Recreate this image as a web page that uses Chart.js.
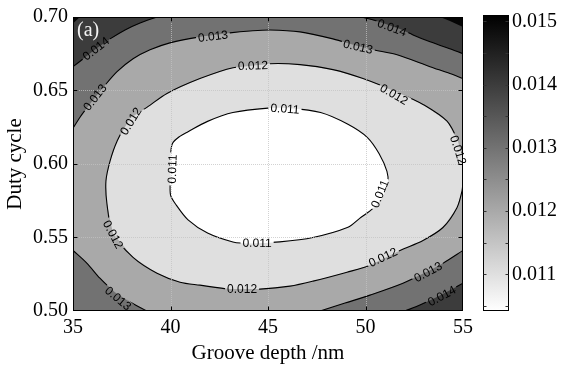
<!DOCTYPE html>
<html>
<head>
<meta charset="utf-8">
<script src="https://cdn.jsdelivr.net/npm/chart.js@4/dist/chart.umd.min.js"></script>
<style>
  html, body { margin: 0; padding: 0; background: #fff; }
  #wrap { position: relative; width: 562px; height: 369px; }
  #main { position: absolute; left: 0; top: 0; }
  #cbar { position: absolute; left: 470px; top: 0; }
</style>
</head>
<body>
<div id="wrap">
  <canvas id="main" width="562" height="369"></canvas>
  <canvas id="cbar" width="92" height="369"></canvas>
</div>
<script>
// axes
const xTicks = [35, 40, 45, 50, 55];
const yTicks = [0.50, 0.55, 0.60, 0.65, 0.70];
const cbTicks = [0.011, 0.012, 0.013, 0.014, 0.015];
const cbMinor = [0.0105, 0.011, 0.0115, 0.012, 0.0125, 0.013, 0.0135, 0.014, 0.0145, 0.015];
const cMin = 0.01042, cMax = 0.0151;

// contour lines, [groove depth nm, duty cycle]
const c014TL = [[35, 0.6662], [35.46, 0.6709], [36.18, 0.6784], [36.90, 0.6851], [37.67, 0.6912], [38.44, 0.6959], [39.31, 0.70]];
const c014TR = [[49.82, 0.70], [50.74, 0.6966], [51.77, 0.6919], [52.44, 0.6878], [53.31, 0.6831], [54.18, 0.6791], [55, 0.675]];
const c014BR = [[52.03, 0.50], [52.79, 0.5041], [53.56, 0.5088], [54.33, 0.5142], [55, 0.5189]];
const c013T = [[35, 0.6243], [35.36, 0.6318], [35.77, 0.6392], [36.13, 0.6453], [36.54, 0.6520], [37.26, 0.6628],
  [38.08, 0.6716], [38.95, 0.6777], [39.97, 0.6824], [41.51, 0.6865], [43.05, 0.6892], [44.08, 0.6905],
  [45.10, 0.6912], [46.64, 0.6899], [48.33, 0.6851], [49.56, 0.6804], [50.38, 0.6777], [51.62, 0.6743],
  [53.31, 0.6662], [54.33, 0.6615], [55, 0.6581]];
const c013BL = [[35, 0.5412], [35.72, 0.5324], [36.38, 0.5223], [37.15, 0.5128], [37.92, 0.5061], [38.79, 0.50]];
const c013BR = [[47.67, 0.50], [48.95, 0.5054], [50.23, 0.5108], [51.92, 0.5189], [53.31, 0.5277], [53.97, 0.5324], [55, 0.5412]];
const c012 = [[55, 0.6034], [54.74, 0.6155], [54.18, 0.6291], [52.95, 0.6405], [51.77, 0.6480], [49.87, 0.6581],
  [48.33, 0.6642], [46.64, 0.6676], [45.10, 0.6682], [43.21, 0.6655], [41.51, 0.6581], [39.82, 0.6480],
  [38.79, 0.6385], [37.92, 0.6311], [37.26, 0.6155], [36.90, 0.6020], [36.69, 0.5885], [36.74, 0.5730],
  [37.05, 0.5527], [38.08, 0.5365], [39.31, 0.5257], [40.49, 0.5196], [41.51, 0.5176], [43.05, 0.5149],
  [44.59, 0.5149], [46.13, 0.5169], [47.31, 0.5203], [49.05, 0.5264], [50.23, 0.5311], [51.77, 0.5412],
  [52.95, 0.5480], [53.97, 0.5568], [54.69, 0.5703], [54.95, 0.5818], [55, 0.5885]];
const c011 = [[40.0, 0.592], [40.0, 0.605], [40.1, 0.614], [40.5, 0.619], [40.9, 0.622], [41.9, 0.629],
  [43.2, 0.635], [45.0, 0.638], [46.1, 0.638], [47.7, 0.635], [49.1, 0.627], [50.1, 0.618], [50.7, 0.607],
  [51.1, 0.595], [51.15, 0.587], [50.9, 0.578], [50.4, 0.570], [49.7, 0.563], [49.1, 0.557], [47.3, 0.550],
  [45.6, 0.547], [44.1, 0.546], [43.2, 0.547], [41.9, 0.553], [40.9, 0.562], [40.3, 0.572], [40.0, 0.579],
  [40.0, 0.592]];
// corners above 0.015 (no drawn line)
const hiTR = [[53.82, 0.70], [55, 0.70], [55, 0.6932], [54.33, 0.6973]];
const hiTL = [[35, 0.70], [35.35, 0.70], [35, 0.6955]];

// inline labels: [level, x, y, angle deg]
const contourLabels = [
  [0.014, 36.18, 0.6784, -38], [0.013, 36.13, 0.6453, -52], [0.012, 37.97, 0.6291, -58],
  [0.011, 40.10, 0.5966, -88], [0.013, 42.18, 0.6868, -7], [0.012, 44.23, 0.6669, -2],
  [0.011, 45.87, 0.6375, 4], [0.014, 51.36, 0.6926, 20], [0.013, 49.62, 0.6797, 13],
  [0.012, 51.46, 0.6473, 30], [0.012, 54.75, 0.6095, 72], [0.011, 50.74, 0.5797, -68],
  [0.011, 44.44, 0.5462, 1], [0.012, 43.67, 0.5150, 0], [0.012, 50.90, 0.5365, -25],
  [0.013, 53.21, 0.5265, -28], [0.014, 53.92, 0.5101, -28], [0.013, 37.31, 0.5085, 40],
  [0.012, 37.05, 0.5520, 62]
];

const serif = "'Liberation Serif', 'Times New Roman', serif";
const labelFont = "12px 'Liberation Sans', Arial, sans-serif";

function grayOf(v) {
  const t = Math.min(1, Math.max(0, (v - cMin) / (cMax - cMin)));
  const g = Math.round(255 * (1 - t));
  return 'rgb(' + g + ',' + g + ',' + g + ')';
}
const pts = a => a.map(([x, y]) => ({ x, y }));
const rev = a => a.slice().reverse();

// filled regions z < level, layered
const plotBox = [[35, 0.5], [55, 0.5], [55, 0.7], [35, 0.7]];
const poly014 = [...c014TL, ...c014TR, ...rev(c014BR), [35, 0.5]];
const poly013 = [...c013T, ...rev(c013BR), ...rev(c013BL)];

const fills = [
  [plotBox, 0.014, 0], [poly014, 0.013, 0], [poly013, 0.012, 0], [c012, 0.011, 0], [c011, cMin, 0.3],
  [hiTR, 0.015, 0], [hiTL, 0.015, 0]
];
const datasets = [];
fills.forEach(([poly, lv, tn], i) => {
  datasets.push({
    data: pts(poly), fill: 'shape', backgroundColor: grayOf(lv),
    borderWidth: 0, pointRadius: 0, tension: tn, order: 20 - i
  });
});
[c014TL, c014TR, c014BR, c013T, c013BL, c013BR, c012, c011].forEach(line => {
  datasets.push({
    data: pts(line), fill: false, borderColor: '#000', borderWidth: 1.1,
    pointRadius: 0, tension: 0.3, order: 1, isContour: true
  });
});

const contourPlugin = {
  id: 'contourDeco',
  beforeDatasetDraw(chart, args) {
    if (!chart.data.datasets[args.index].isContour) return;
    const ctx = chart.ctx, xs = chart.scales.x, ys = chart.scales.y;
    ctx.save();
    ctx.beginPath();
    ctx.rect(0, 0, chart.width, chart.height);
    ctx.font = labelFont;
    contourLabels.forEach(([lv, x, y, ang]) => {
      const cx = xs.getPixelForValue(x), cy = ys.getPixelForValue(y);
      const hw = ctx.measureText(lv.toFixed(3)).width / 2 + 2, hh = 5.5;
      const a = ang * Math.PI / 180, c = Math.cos(a), s = Math.sin(a);
      [[-hw, -hh], [hw, -hh], [hw, hh], [-hw, hh]].forEach(([u, v], k) => {
        const px = cx + u * c - v * s, py = cy + u * s + v * c;
        if (k) ctx.lineTo(px, py); else ctx.moveTo(px, py);
      });
      ctx.closePath();
    });
    ctx.clip('evenodd');
  },
  afterDatasetDraw(chart, args) {
    if (chart.data.datasets[args.index].isContour) chart.ctx.restore();
  },
  afterDatasetsDraw(chart) {
    const { ctx, chartArea: a } = chart;
    const xs = chart.scales.x, ys = chart.scales.y;
    ctx.save();
    // dotted grid
    ctx.strokeStyle = 'rgba(195,195,195,0.75)';
    ctx.lineWidth = 1;
    ctx.setLineDash([1, 1]);
    ctx.beginPath();
    xTicks.slice(1, -1).forEach(v => {
      const px = Math.round(xs.getPixelForValue(v)) + 0.5;
      ctx.moveTo(px, a.top); ctx.lineTo(px, a.bottom);
    });
    yTicks.slice(1, -1).forEach(v => {
      const py = Math.round(ys.getPixelForValue(v)) + 0.5;
      ctx.moveTo(a.left, py); ctx.lineTo(a.right, py);
    });
    ctx.stroke();
    ctx.setLineDash([]);
    // inline labels
    ctx.fillStyle = '#000';
    ctx.font = labelFont;
    ctx.textAlign = 'center';
    ctx.textBaseline = 'middle';
    contourLabels.forEach(([lv, x, y, ang]) => {
      ctx.save();
      ctx.translate(xs.getPixelForValue(x), ys.getPixelForValue(y));
      ctx.rotate(ang * Math.PI / 180);
      ctx.fillText(lv.toFixed(3), 0, 0.5);
      ctx.restore();
    });
    // panel tag
    ctx.fillStyle = '#f2f2f2';
    ctx.font = '20px ' + serif;
    ctx.textAlign = 'left';
    ctx.textBaseline = 'top';
    ctx.fillText('(a)', a.left + 4, a.top + 4);
    // frame and inward ticks
    ctx.strokeStyle = '#000';
    ctx.lineWidth = 1;
    const L = Math.round(a.left) + 0.5, R = Math.round(a.right) - 0.5;
    const T = Math.round(a.top) + 0.5, B = Math.round(a.bottom) - 0.5;
    ctx.strokeRect(L, T, R - L, B - T);
    ctx.beginPath();
    xTicks.slice(1, -1).forEach(v => {
      const px = Math.round(xs.getPixelForValue(v)) + 0.5;
      ctx.moveTo(px, B); ctx.lineTo(px, B - 4);
      ctx.moveTo(px, T); ctx.lineTo(px, T + 4);
    });
    yTicks.slice(1, -1).forEach(v => {
      const py = Math.round(ys.getPixelForValue(v)) + 0.5;
      ctx.moveTo(L, py); ctx.lineTo(L + 4, py);
      ctx.moveTo(R, py); ctx.lineTo(R - 4, py);
    });
    ctx.stroke();
    ctx.restore();
  }
};

new Chart(document.getElementById('main'), {
  type: 'line',
  data: { datasets },
  options: {
    responsive: false,
    animation: false,
    events: [],
    layout: { padding: { left: 0, right: 99, top: 15, bottom: 0 } },
    plugins: { legend: { display: false }, tooltip: { enabled: false } },
    elements: { point: { radius: 0 } },
    scales: {
      x: {
        type: 'linear', min: 35, max: 55,
        grid: { display: false, drawTicks: false },
        border: { display: false },
        afterBuildTicks: s => { s.ticks = xTicks.map(v => ({ value: v })); },
        afterFit: s => { s.height = 58; },
        ticks: { font: { family: serif, size: 20 }, color: '#000', padding: 5, maxRotation: 0,
          callback: v => String(v) },
        title: { display: true, text: 'Groove depth /nm', color: '#000',
          font: { family: serif, size: 21 }, padding: { top: 0, bottom: 3 } }
      },
      y: {
        type: 'linear', min: 0.5, max: 0.7,
        grid: { display: false, drawTicks: false },
        border: { display: false },
        afterBuildTicks: s => { s.ticks = yTicks.map(v => ({ value: v })); },
        afterFit: s => { s.width = 73; },
        ticks: { font: { family: serif, size: 20 }, color: '#000', padding: 5,
          callback: v => Number(v).toFixed(2) },
        title: { display: true, text: 'Duty cycle', color: '#000',
          font: { family: serif, size: 21 }, padding: { top: 3, bottom: 0 } }
      }
    }
  },
  plugins: [contourPlugin]
});

// colour bar
const cbarPlugin = {
  id: 'cbarFill',
  beforeDatasetsDraw(chart) {
    const { ctx, chartArea: a, scales: { y } } = chart;
    ctx.save();
    const g = ctx.createLinearGradient(0, y.getPixelForValue(cMin), 0, y.getPixelForValue(cMax));
    g.addColorStop(0, grayOf(cMin));
    g.addColorStop(1, grayOf(cMax));
    ctx.fillStyle = g;
    ctx.fillRect(a.left, a.top, a.right - a.left, a.bottom - a.top);
    ctx.strokeStyle = '#000';
    ctx.lineWidth = 1;
    const L = Math.round(a.left) + 0.5, R = Math.round(a.right) - 0.5;
    ctx.strokeRect(L, Math.round(a.top) + 0.5, R - L, Math.round(a.bottom) - Math.round(a.top) - 1);
    ctx.strokeStyle = '#333';
    ctx.beginPath();
    cbMinor.forEach(v => {
      const py = Math.round(y.getPixelForValue(v)) + 0.5;
      ctx.moveTo(L, py); ctx.lineTo(L + 3, py);
      ctx.moveTo(R, py); ctx.lineTo(R - 3, py);
    });
    ctx.stroke();
    ctx.restore();
  }
};

new Chart(document.getElementById('cbar'), {
  type: 'line',
  data: { datasets: [] },
  options: {
    responsive: false,
    animation: false,
    events: [],
    layout: { padding: { left: 13, right: 0, top: 14, bottom: 58 } },
    plugins: { legend: { display: false }, tooltip: { enabled: false } },
    scales: {
      x: { type: 'linear', min: 0, max: 1, display: false },
      y: {
        type: 'linear', position: 'right', min: cMin, max: cMax,
        grid: { display: false, drawTicks: false },
        border: { display: false },
        afterBuildTicks: s => { s.ticks = cbTicks.map(v => ({ value: v })); },
        afterFit: s => { s.width = 53; },
        ticks: { font: { family: serif, size: 20 }, color: '#000', padding: 3,
          callback: v => Number(v).toFixed(3) }
      }
    }
  },
  plugins: [cbarPlugin]
});
</script>
</body>
</html>
